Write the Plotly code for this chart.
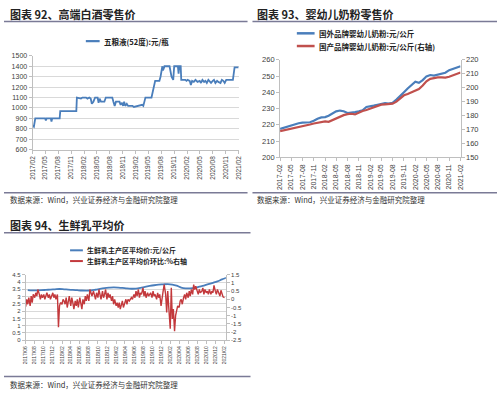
import plotly.graph_objects as go
import pandas as pd

W, H = 500, 399

# ---------------- data: chart 92 (五粮液 price) ----------------
wly_dates = [
    "2017-02-01", "2017-02-10", "2017-02-20", "2017-05-01", "2017-05-06", "2017-05-12",
    "2017-06-10", "2017-06-15", "2017-06-20", "2017-08-12", "2017-08-16", "2017-12-08",
    "2017-12-12", "2018-01-10", "2018-01-20", "2018-02-15", "2018-02-25", "2018-03-10",
    "2018-03-20", "2018-03-28", "2018-04-08", "2018-04-20", "2018-05-08", "2018-05-15",
    "2018-05-22", "2018-06-01", "2018-06-10", "2018-06-25", "2018-07-05", "2018-08-20",
    "2018-08-28", "2018-09-06", "2018-09-15", "2018-10-10", "2018-10-18", "2018-10-28",
    "2018-11-05", "2018-11-12", "2018-11-20", "2018-12-01", "2018-12-10", "2018-12-20",
    "2019-01-10", "2019-01-20", "2019-02-20", "2019-03-01", "2019-03-20", "2019-03-28",
    "2019-04-05", "2019-04-12", "2019-05-25", "2019-06-08", "2019-06-20", "2019-07-20",
    "2019-07-28", "2019-08-10", "2019-08-14", "2019-08-20", "2019-08-25", "2019-09-30",
    "2019-10-06", "2019-10-14", "2019-10-26", "2019-11-02", "2019-11-28", "2019-12-03",
    "2019-12-08", "2019-12-18", "2019-12-22", "2020-01-20", "2020-01-28", "2020-02-05",
    "2020-02-20", "2020-02-28", "2020-03-08", "2020-03-20", "2020-04-01", "2020-04-15",
    "2020-05-01", "2020-05-10", "2020-05-20", "2020-06-01", "2020-06-10", "2020-06-20",
    "2020-07-01", "2020-07-10", "2020-07-20", "2020-08-01", "2020-08-10", "2020-08-20",
    "2020-09-01", "2020-09-10", "2020-09-25", "2020-10-05", "2020-10-15", "2020-10-25",
    "2020-11-05", "2020-11-15", "2020-12-10", "2020-12-22", "2021-01-03", "2021-02-01",
]
wly_price = [
    830, 820, 900, 900, 880, 900,
    900, 870, 900, 900, 970, 970,
    1100, 1090, 1100, 1100, 1090, 1100,
    1090, 1040, 1060, 1100, 1100, 1050,
    1090, 1060, 1060, 1060, 1100, 1100,
    1060, 1020, 1060, 1060, 1030, 1050,
    1020, 1060, 1020, 1040, 1020, 1020,
    1020, 1010, 1020, 1030, 1030, 1020,
    1060, 1100, 1100, 1200, 1260, 1260,
    1300, 1400, 1360, 1380, 1400, 1400,
    1350, 1300, 1270, 1400, 1400, 1330,
    1400, 1400, 1270, 1270, 1260, 1270,
    1260, 1220, 1260, 1250, 1270, 1250,
    1260, 1240, 1270, 1250, 1260, 1240,
    1270, 1250, 1240, 1260, 1270, 1240,
    1260, 1250, 1240, 1270, 1260, 1240,
    1270, 1270, 1270, 1270, 1390, 1390,
]

# ---------------- data: chart 93 (infant formula) ----------------
milk_months = pd.date_range("2017-02-01", "2021-02-01", freq="MS")
foreign_formula = [
    217.5, 218.2, 219.0, 219.6, 220.3, 221.0, 221.4, 221.5, 221.6, 222.5, 223.8,
    224.6, 224.8, 225.6, 227.0, 228.3, 228.8, 228.4, 227.3, 227.4, 227.8, 228.3, 229.0,
    231.0, 231.2, 231.8, 232.3, 232.8, 233.3, 233.0, 233.5, 235.5, 237.5, 240.0, 242.3,
    244.5, 246.5, 245.8, 247.5, 249.8, 250.6, 250.3, 250.8, 251.6, 252.0, 253.6, 254.4,
    255.0, 256.0,
]
domestic_formula = [
    168.8, 169.3, 170.0, 170.6, 171.2, 171.8, 172.5, 173.0, 173.6, 174.3, 174.8,
    175.0, 175.8, 175.5, 176.8, 178.3, 179.5, 180.3, 181.0, 181.3, 180.8, 182.3, 183.3,
    184.0, 185.0, 186.0, 187.0, 187.8, 188.0, 188.2, 188.5, 190.0, 192.5, 194.5, 195.5,
    196.5, 197.5, 199.0, 201.5, 204.5, 206.3, 207.0, 207.3, 207.3, 207.2, 207.8, 208.8,
    210.0, 210.8,
]

# ---------------- data: chart 94 (raw milk) ----------------
raw_months = pd.date_range("2017-06-01", "2021-02-01", freq="MS")
raw_milk_price = [
    3.45, 3.43, 3.43, 3.44, 3.46, 3.48, 3.50,
    3.52, 3.50, 3.48, 3.46, 3.44, 3.42, 3.41, 3.42, 3.47, 3.53, 3.58, 3.61,
    3.63, 3.62, 3.60, 3.56, 3.54, 3.55, 3.60, 3.67, 3.73, 3.78, 3.82, 3.84,
    3.86, 3.83, 3.75, 3.62, 3.57, 3.57, 3.60, 3.68, 3.76, 3.85, 3.95, 4.05,
    4.18, 4.30,
]
week_days = [1, 8, 15, 22]
raw_milk_mom = [  # four weekly readings per month, 2017/06 .. 2021/02
    [-0.45, 0.0, -0.3, 0.1], [-0.4, 0.2, -0.2, 0.3], [0.1, 0.4, 0.2, 0.6], [0.3, 0.0, 0.3, 0.1],
    [0.3, 0.0, 0.2, 0.4], [0.1, 0.3, 0.0, 0.2], [0.4, 0.1, 0.3, 0.0],
    [0.3, -1.7, -0.4, -0.2], [-0.3, 0.0, -0.1, -0.3], [0.1, -0.5, 0.0, 0.2], [-0.4, 0.1, -0.2, -0.6],
    [-0.1, -0.4, 0.0, -0.5], [0.1, -0.3, -0.6, 0.0], [-0.3, 0.2, -0.1, 0.3], [-0.1, 0.6, 0.4, 0.2],
    [0.5, 0.3, 0.0, 0.4], [0.1, 0.6, 0.2, 0.0], [0.5, 0.1, 0.3, 0.6], [0.0, 0.4, 0.1, 0.3],
    [-0.1, 0.2, -0.3, 0.0], [-0.4, -0.2, -0.5, -0.2], [-0.6, -0.3, -0.1, -0.5], [-0.2, 0.0, -0.3, 0.0],
    [-0.1, 0.0, 0.1, 0.0], [0.3, 0.1, 0.5, 0.2], [0.6, 0.1, 0.4, 0.3], [0.7, 0.2, 0.5, 0.1],
    [0.4, 0.2, 0.3, 0.4], [0.1, 0.5, 0.2, 0.3], [0.0, 0.4, 0.1, 0.3], [-0.4, 0.2, 0.5, 0.9],
    [0.3, -0.8, 0.5, -0.5], [-1.8, 0.7, -1.2, -0.6], [-1.95, -1.0, -0.6, -0.4], [-0.5, -0.1, 0.0, -0.3],
    [0.1, 0.3, 0.0, 0.4], [0.1, 0.5, 0.2, 0.6], [0.3, 0.9, 0.6, 0.8], [0.5, 0.3, 0.6, 0.4],
    [0.5, 0.7, 0.3, 0.6], [0.4, 0.5, 0.3, 0.6], [0.3, 0.5, 0.4, 0.85], [0.5, 0.3, 0.6, 0.4],
    [0.2, 0.55, 0.3, 0.15], [0.1],
]

# ---------------- texts ----------------
titles = ["图表 92、高端白酒零售价", "图表 93、婴幼儿奶粉零售价", "图表 94、生鲜乳平均价"]
source_text = "数据来源：Wind，兴业证券经济与金融研究院整理"
legend_texts = ["五粮液(52度):元/瓶", "国外品牌婴幼儿奶粉:元/公斤", "国产品牌婴幼儿奶粉:元/公斤(右轴)",
                "生鲜乳主产区平均价:元/公斤", "生鲜乳主产区平均价环比:%右轴"]
wly_ticks = [600, 700, 800, 900, 1000, 1100, 1200, 1300, 1400, 1500]
raw_left_ticks = [0, 0.5, 1, 1.5, 2, 2.5, 3, 3.5, 4, 4.5]
raw_right_ticks = [1.5, 1, 0.5, 0, -0.5, -1, -1.5, -2, -2.5]

BLUE = "#4a7ebb"
RED = "#c0504d"
RED3 = "#c3393c"
CJK = "Noto Sans CJK SC"
NUM = "Liberation Sans, Arial"
AX = "#bfbfbf"
GRID = "#d9d9d9"
TXT = "#404040"


def fx(p):
    return p / W


def fy(p):
    return 1 - p / H


mom_dates, mom_vals = [], []
for m, vals in zip(raw_months, raw_milk_mom):
    for d, v in zip(week_days, vals):
        mom_dates.append(m + pd.Timedelta(days=d - 1))
        mom_vals.append(v)

fig = go.Figure()
fig.add_trace(go.Scatter(x=pd.to_datetime(wly_dates), y=wly_price, mode="lines",
                         line=dict(color=BLUE, width=1.8), xaxis="x", yaxis="y"))
fig.add_trace(go.Scatter(x=milk_months, y=foreign_formula, mode="lines",
                         line=dict(color=BLUE, width=2.2), xaxis="x2", yaxis="y2"))
fig.add_trace(go.Scatter(x=milk_months, y=domestic_formula, mode="lines",
                         line=dict(color=RED, width=2.2), xaxis="x2", yaxis="y3"))
fig.add_trace(go.Scatter(x=raw_months + pd.Timedelta(days=14), y=raw_milk_price, mode="lines",
                         line=dict(color=BLUE, width=1.8, shape="spline"), xaxis="x3", yaxis="y4"))
fig.add_trace(go.Scatter(x=mom_dates, y=mom_vals, mode="lines",
                         line=dict(color=RED3, width=1.4), xaxis="x3", yaxis="y5"))

xcommon = dict(type="date", tickangle=-90, ticks="outside", ticklen=3, tickcolor=AX,
               showline=True, linecolor=AX, linewidth=1, showgrid=False, zeroline=False,
               ticklabeloverflow="allow")
ycommon = dict(showline=True, linecolor=AX, linewidth=1, ticks="outside", ticklen=3,
               tickcolor=AX, zeroline=False, ticklabeloverflow="allow")

fig.update_layout(
    width=W, height=H, margin=dict(l=0, r=0, t=0, b=0),
    paper_bgcolor="white", plot_bgcolor="white", showlegend=False,
    font=dict(family=NUM, color=TXT),
    xaxis=dict(**xcommon, domain=[fx(29), fx(238)], anchor="y",
               range=["2017-02-01", "2021-02-01"], tick0="2017-02-01", dtick="M3",
               tickformat="%Y/%m", tickfont=dict(size=6.5, family=NUM)),
    yaxis=dict(**ycommon, domain=[fy(149), fy(53)], anchor="x", range=[600, 1500.5],
               tickvals=wly_ticks, ticktext=[str(v) for v in wly_ticks],
               showgrid=True, gridcolor=GRID, tickfont=dict(size=7, family=NUM)),
    xaxis2=dict(**xcommon, domain=[fx(280), fx(463)], anchor="y2",
                range=["2017-02-01", "2021-02-01"], tick0="2017-02-01", dtick="M3",
                tickformat="%Y-%m", tickfont=dict(size=7, family=NUM)),
    yaxis2=dict(**ycommon, domain=[fy(157), fy(57)], anchor="x2", range=[200, 260],
                dtick=10, showgrid=False, tickfont=dict(size=7.5, family=NUM)),
    yaxis3=dict(**ycommon, overlaying="y2", side="right", anchor="x2", range=[150, 220],
                dtick=10, showgrid=False, tickfont=dict(size=7.5, family=NUM)),
    xaxis3=dict(**xcommon, domain=[fx(22), fx(225)], anchor="y4",
                range=["2017-06-01", "2021-02-10"], tick0="2017-06-01", dtick="M2",
                tickformat="%Y/%m", tickfont=dict(size=5, family=NUM)),
    yaxis4=dict(**ycommon, domain=[fy(344), fy(277)], anchor="x3", range=[0, 4.501],
                tickvals=raw_left_ticks, ticktext=[f"{v:g}" for v in raw_left_ticks],
                showgrid=True, gridcolor=GRID, tickfont=dict(size=6, family=NUM)),
    yaxis5=dict(**ycommon, overlaying="y4", side="right", anchor="x3", range=[-2.5, 1.501],
                tickvals=raw_right_ticks, ticktext=[f"{v:g}" for v in raw_right_ticks],
                showgrid=False, tickfont=dict(size=6, family=NUM)),
)

shapes = []
ann = []
SEP = "#7a7a96"
# title underlines and bottom rules
for (x0, x1, y) in [(0, 247, 18), (252, 500, 18), (0, 247, 193), (252, 500, 193),
                    (0, 250, 234), (0, 250, 381)]:
    shapes.append(dict(type="line", xref="paper", yref="paper", x0=fx(x0), x1=fx(x1),
                       y0=fy(y), y1=fy(y), line=dict(color=SEP, width=1.5)))
# titles
for t, (x, y) in zip(titles, [(4, 10), (255, 10), (4, 226)]):
    ann.append(dict(text="<b>" + t + "</b>", x=fx(x), y=fy(y), xref="paper", yref="paper",
                    xanchor="left", yanchor="middle", showarrow=False,
                    font=dict(family=CJK, size=11, color="#222222")))
# sources
for (x, y) in [(4, 200), (255, 200), (4, 389)]:
    ann.append(dict(text=source_text, x=fx(x), y=fy(y), xref="paper", yref="paper",
                    xanchor="left", yanchor="middle", showarrow=False,
                    font=dict(family=CJK, size=7.5, color="#333333")))
# legends
legend_items = [
    (83, 97, 38, BLUE, 2.2, legend_texts[0], 7.5),
    (297, 315, 30, BLUE, 2.5, legend_texts[1], 7.5),
    (297, 315, 43, RED, 2.5, legend_texts[2], 7.5),
    (67, 80, 252, BLUE, 2.0, legend_texts[3], 7),
    (67, 80, 263, RED3, 2.0, legend_texts[4], 7),
]
for (x0, x1, y, c, w, t, s) in legend_items:
    shapes.append(dict(type="line", xref="paper", yref="paper", x0=fx(x0), x1=fx(x1),
                       y0=fy(y), y1=fy(y), line=dict(color=c, width=w)))
    ann.append(dict(text="<b>" + t + "</b>", x=fx(x1 + 2), y=fy(y), xref="paper", yref="paper",
                    xanchor="left", yanchor="middle", showarrow=False,
                    font=dict(family=CJK, size=s, color="#222222")))

fig.update_layout(shapes=shapes, annotations=ann)
fig.write_html("out.html", config={"displayModeBar": False, "staticPlot": True},
               post_script="document.body.style.margin='0';document.body.style.padding='0';")
